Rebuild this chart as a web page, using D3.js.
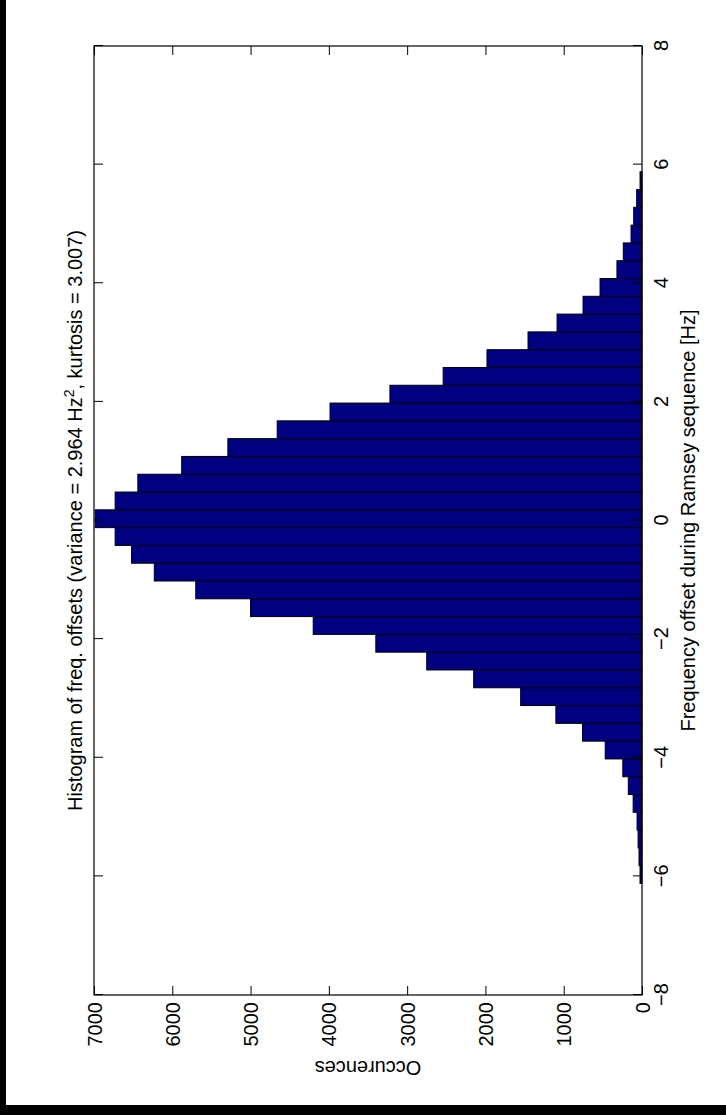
<!DOCTYPE html>
<html>
<head>
<meta charset="utf-8">
<script src="https://cdn.jsdelivr.net/npm/d3@7"></script>
<style>
  html, body { margin: 0; padding: 0; background: #000; }
  svg { display: block; }
  text { font-family: "Liberation Sans", Arial, Helvetica, sans-serif; fill: #000; }
</style>
</head>
<body>
<script>
// ---- data ----
const binCenters = [-5.97,-5.67,-5.37,-5.07,-4.77,-4.47,-4.17,-3.87,-3.57,-3.27,
                    -2.97,-2.67,-2.37,-2.07,-1.77,-1.47,-1.17,-0.87,-0.57,-0.27,
                     0.03, 0.33, 0.63, 0.93, 1.23, 1.53, 1.83, 2.13, 2.43, 2.73,
                     3.03, 3.33, 3.63, 3.93, 4.23, 4.53, 4.83, 5.13, 5.43, 5.73];
const counts = [25, 38, 50, 63, 113, 175, 245, 470, 760, 1100,
                1550, 2150, 2750, 3400, 4200, 5000, 5700, 6230, 6520, 6730,
                6985, 6730, 6440, 5880, 5290, 4660, 3985, 3220, 2540, 1980,
                1456, 1085, 753, 536, 320, 239, 140, 106, 68, 25];
const binWidth = 0.3;
const freqTicks = [-8, -6, -4, -2, 0, 2, 4, 6, 8];
const countTicks = [0, 1000, 2000, 3000, 4000, 5000, 6000, 7000];
const titleText = "Histogram of freq. offsets (variance = 2.964 Hz";
const titleSup = "2";
const titleEnd = ", kurtosis = 3.007)";
const xLabel = "Frequency offset during Ramsey sequence [Hz]";
const yLabel = "Occurences";

// ---- layout ----
const W = 726, H = 1115;
const plotLeft = 94, plotTop = 46, plotRight = 642, plotBottom = 995;
const pw = plotBottom - plotTop;   // length of frequency axis (rotated)
const ph = plotRight - plotLeft;   // length of count axis (rotated)
const fs = 20;

const svg = d3.select("body").append("svg").attr("width", W).attr("height", H);
svg.append("rect").attr("width", W).attr("height", H).attr("fill", "#000");
svg.append("rect").attr("x", 6).attr("y", 0).attr("width", W - 6).attr("height", 1105).attr("fill", "#fff");

// whole figure drawn unrotated, then rotated -90deg
const g = svg.append("g").attr("transform", `translate(${plotLeft},${plotBottom}) rotate(-90)`);

const x = d3.scaleLinear().domain([-8, 8]).range([0, pw]);
const y = d3.scaleLinear().domain([0, 7000]).range([ph, 0]);

// bars
g.selectAll("rect.bar").data(binCenters).join("rect")
  .attr("class", "bar")
  .attr("x", (c) => x(c - binWidth / 2))
  .attr("width", (c) => x(c + binWidth / 2) - x(c - binWidth / 2))
  .attr("y", (c, i) => y(counts[i]))
  .attr("height", (c, i) => y(0) - y(counts[i]))
  .attr("fill", "#000080")
  .attr("stroke", "#000")
  .attr("stroke-width", 1);

// axes with inward ticks
const tickLen = 9;
const xAxis = g.append("g").attr("transform", `translate(0,${ph})`)
  .call(d3.axisBottom(x).tickValues(freqTicks).tickSize(-tickLen).tickFormat(d3.format("d")));
const xAxisTop = g.append("g")
  .call(d3.axisTop(x).tickValues(freqTicks).tickSize(-tickLen).tickFormat(""));
const yAxis = g.append("g")
  .call(d3.axisLeft(y).tickValues(countTicks).tickSize(-tickLen).tickFormat(d3.format("d")));
const yAxisRight = g.append("g").attr("transform", `translate(${pw},0)`)
  .call(d3.axisRight(y).tickValues(countTicks).tickSize(-tickLen).tickFormat(""));

[xAxis, xAxisTop, yAxis, yAxisRight].forEach(a => {
  a.select(".domain").remove();
  a.selectAll(".tick line").attr("stroke", "#000").attr("stroke-width", 1);
});
// hide end ticks that coincide with frame
xAxis.selectAll(".tick text")
  .attr("y", 19).attr("dy", "0.35em")
  .style("font-size", fs + "px").style("font-family", '"Liberation Sans", Arial, sans-serif');
yAxis.selectAll(".tick text")
  .attr("x", -7).attr("dy", "0.35em")
  .style("font-size", fs + "px").style("font-family", '"Liberation Sans", Arial, sans-serif');

// frame
g.append("rect").attr("x", 0).attr("y", 0).attr("width", pw).attr("height", ph)
  .attr("fill", "none").attr("stroke", "#000").attr("stroke-width", 1.2);

// labels
g.append("text")
  .attr("transform", `translate(${pw / 2},${ph + 46})`)
  .attr("text-anchor", "middle").attr("dy", "0.35em")
  .style("font-size", fs + "px")
  .text(xLabel);

g.append("text")
  .attr("transform", `translate(-73,${ph / 2}) rotate(-90)`)
  .attr("text-anchor", "middle").attr("dy", "0.35em")
  .style("font-size", fs + "px")
  .text(yLabel);

const t = g.append("text")
  .attr("transform", `translate(${pw / 2},-19)`)
  .attr("text-anchor", "middle").attr("dy", "0.35em")
  .style("font-size", fs + "px");
t.append("tspan").text(titleText);
t.append("tspan").attr("baseline-shift", "super").style("font-size", "14px").text(titleSup);
t.append("tspan").text(titleEnd);
</script>
</body>
</html>
